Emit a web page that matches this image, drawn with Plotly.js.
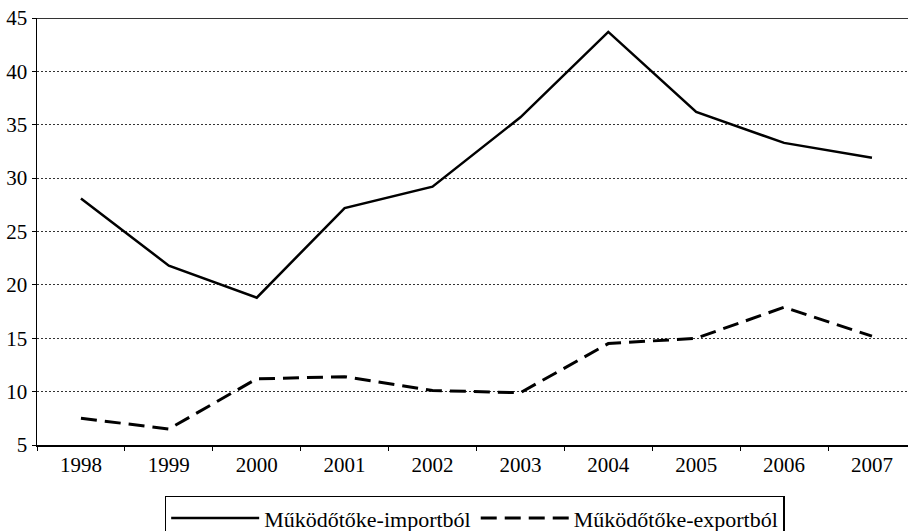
<!DOCTYPE html>
<html>
<head>
<meta charset="utf-8">
<script src="https://cdn.plot.ly/plotly-3.0.1.min.js"></script>
<style>html,body{margin:0;padding:0;background:#fff;}#chart{width:908px;height:531px;}</style>
</head>
<body>
<div id="chart"></div>
<script>
var years = ['1998','1999','2000','2001','2002','2003','2004','2005','2006','2007'];
var importValues = [28.1, 21.8, 18.8, 27.2, 29.2, 35.7, 43.7, 36.2, 33.3, 31.9];
var exportValues = [7.5, 6.5, 11.2, 11.4, 10.1, 9.9, 14.5, 15.0, 17.9, 15.2];
var seriesNames = ['Működőtőke-importból', 'Működőtőke-exportból'];
var yTicks = [5, 10, 15, 20, 25, 30, 35, 40, 45];

var font = "'Liberation Serif', 'Times New Roman', serif";

var traces = [
  {x: years, y: importValues, name: seriesNames[0], type: 'scatter', mode: 'lines',
   line: {color: '#000', width: 2.5}},
  {x: years, y: exportValues, name: seriesNames[1], type: 'scatter', mode: 'lines',
   line: {color: '#000', width: 3, dash: '16px,8px'}}
];

var layout = {
  width: 908, height: 531,
  margin: {l: 37, r: 0, t: 18, b: 86, autoexpand: false},
  paper_bgcolor: '#fff', plot_bgcolor: '#fff',
  font: {family: font, size: 21, color: '#000'},
  showlegend: true,
  xaxis: {
    type: 'category', range: [-0.5, 9.41], automargin: false,
    showline: true, linecolor: '#000', linewidth: 1.5,
    ticks: 'outside', ticklen: 4, tickcolor: '#000', tickson: 'boundaries',
    showgrid: false, zeroline: false,
    tickfont: {family: font, size: 21, color: '#000'}
  },
  yaxis: {
    range: [5, 45], tickvals: yTicks, automargin: false,
    showline: true, linecolor: '#000', linewidth: 1.5,
    ticks: 'outside', ticklen: 4, tickcolor: '#000',
    showgrid: true, gridcolor: '#333', gridwidth: 1, griddash: '2px,2px',
    zeroline: false,
    tickfont: {family: font, size: 21, color: '#000'}
  },
  shapes: [
    {type: 'line', xref: 'paper', yref: 'y', x0: 0, x1: 1, y0: 45, y1: 45,
     line: {color: '#333', width: 2}}
  ],
  legend: {
    orientation: 'h', x: 0.5025, xanchor: 'center', y: -0.119, yanchor: 'top',
    bordercolor: '#000', borderwidth: 1.5, bgcolor: '#fff',
    font: {family: font, size: 22, color: '#000'},
    itemwidth: 88, tracegroupgap: 0
  }
};

Plotly.newPlot('chart', traces, layout, {displayModeBar: false, staticPlot: true});
</script>
</body>
</html>
